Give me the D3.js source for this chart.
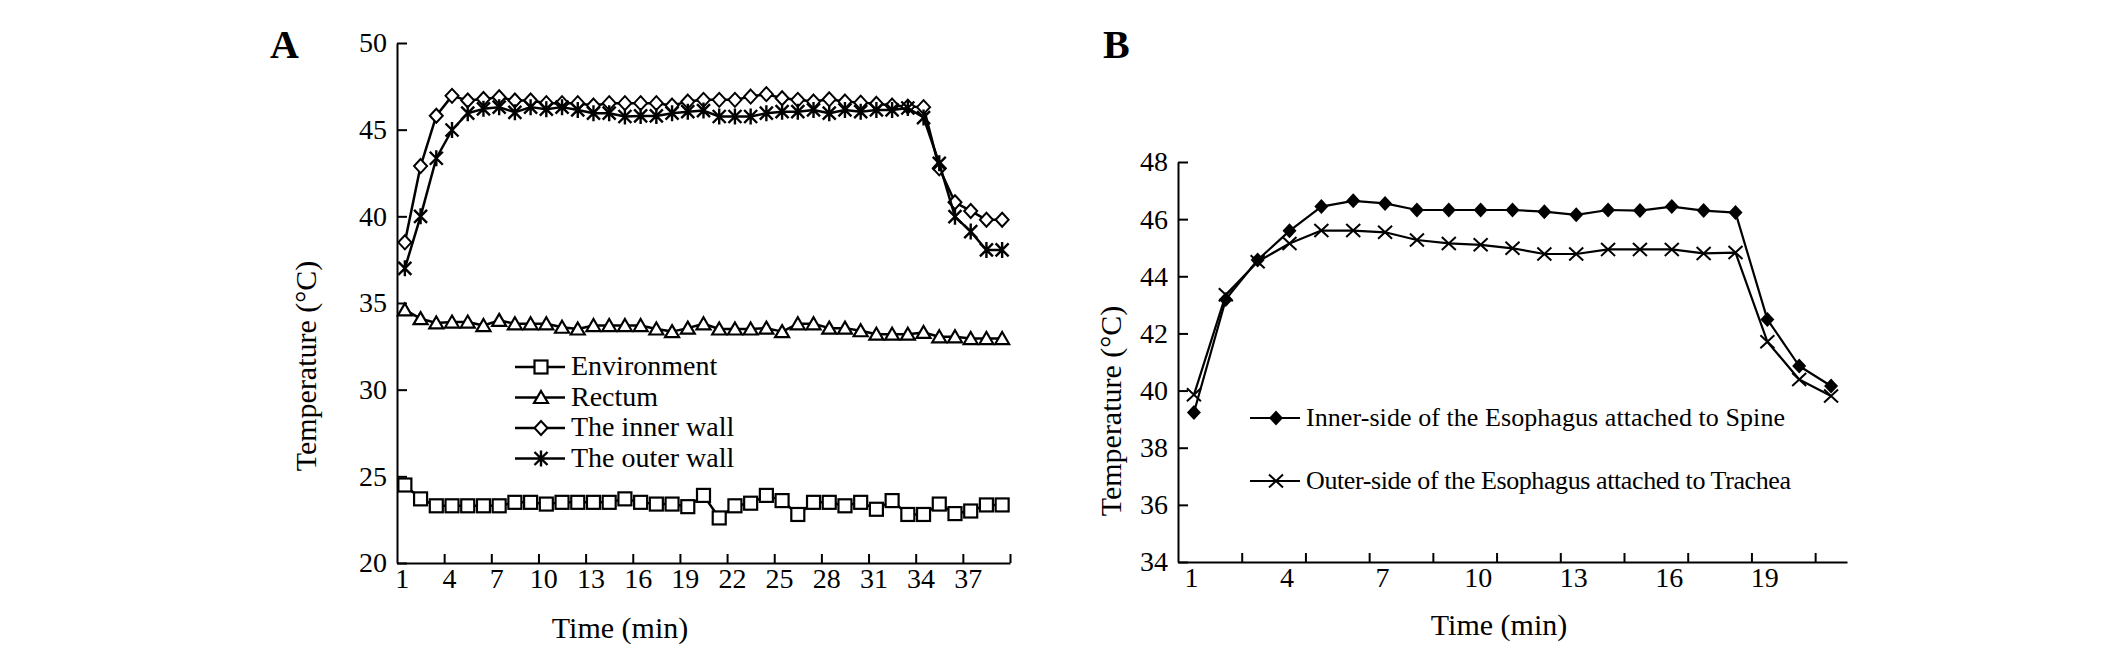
<!DOCTYPE html>
<html>
<head>
<meta charset="utf-8">
<script src="https://cdn.jsdelivr.net/npm/d3@7/dist/d3.min.js"></script>
<style>
  body { margin: 0; background: #fff; }
  text { font-family: "Liberation Serif", "Times New Roman", serif; fill: #000; }
</style>
</head>
<body>
<svg id="chart" width="2126" height="649"></svg>
<script>
// ---- panel A data (min 1..39) ----
var minutesA = [1,2,3,4,5,6,7,8,9,10,11,12,13,14,15,16,17,18,19,20,
                21,22,23,24,25,26,27,28,29,30,31,32,33,34,35,36,37,38,39];
var environment = [24.5,23.7,23.3,23.3,23.3,23.3,23.3,23.5,23.5,23.4,
                   23.5,23.5,23.5,23.5,23.7,23.5,23.4,23.4,23.25,23.9,
                   22.6,23.3,23.45,23.9,23.6,22.8,23.5,23.5,23.3,23.5,
                   23.1,23.6,22.8,22.8,23.4,22.85,23.0,23.35,23.35];
var rectum = [34.6,34.1,33.85,33.9,33.9,33.7,34.0,33.8,33.8,33.8,
              33.6,33.5,33.7,33.7,33.7,33.7,33.5,33.35,33.55,33.8,
              33.5,33.5,33.5,33.55,33.35,33.8,33.8,33.55,33.55,33.4,
              33.2,33.2,33.2,33.3,33.05,33.05,32.95,32.95,32.95];
var innerWall = [38.5,42.9,45.8,46.95,46.68,46.77,46.87,46.68,46.68,46.53,
                 46.53,46.53,46.39,46.53,46.53,46.53,46.53,46.39,46.62,46.72,
                 46.72,46.72,46.91,47.05,46.81,46.72,46.62,46.75,46.62,46.56,
                 46.49,46.39,46.33,46.3,42.77,40.81,40.31,39.8,39.8];
var outerWall = [37.0,40.0,43.35,44.98,45.95,46.2,46.3,46.0,46.3,46.18,
                 46.3,46.14,45.95,45.95,45.76,45.79,45.79,45.95,46.04,46.1,
                 45.76,45.76,45.76,45.95,46.04,46.04,46.14,45.95,46.14,46.04,
                 46.14,46.14,46.25,45.7,43.06,39.98,39.12,38.06,38.06];
var tickLabelsA = [1,4,7,10,13,16,19,22,25,28,31,34,37];
var yTicksA = [20,25,30,35,40,45,50];
var namesA = ["Environment", "Rectum", "The inner wall", "The outer wall"];

// ---- panel B data (min 1..21) ----
var minutesB = [1,2,3,4,5,6,7,8,9,10,11,12,13,14,15,16,17,18,19,20,21];
var innerSide = [39.23,43.19,44.57,45.59,46.44,46.64,46.55,46.32,46.32,46.32,
                 46.32,46.26,46.15,46.32,46.3,46.44,46.3,46.23,42.49,40.86,40.16];
var outerSide = [39.85,43.35,44.51,45.15,45.6,45.6,45.54,45.27,45.15,45.1,
                 44.98,44.78,44.78,44.94,44.94,44.94,44.8,44.83,41.71,40.39,39.81];
var tickLabelsB = [1,4,7,10,13,16,19];
var yTicksB = [34,36,38,40,42,44,46,48];
var namesB = ["Inner-side of the Esophagus attached to Spine",
              "Outer-side of the Esophagus attached to Trachea"];

var svg = d3.select("#chart");

// marker shapes
var shapes = {
  square: function (g) {
    g.append("rect").attr("x", -6.5).attr("y", -6.5).attr("width", 13).attr("height", 13)
      .attr("fill", "#fff").attr("stroke", "#000").attr("stroke-width", 2.2);
  },
  triangle: function (g) {
    g.append("path").attr("d", "M0,-6.5L7,5.5L-7,5.5Z")
      .attr("fill", "#fff").attr("stroke", "#000").attr("stroke-width", 2.2);
  },
  diamond: function (g) {
    g.append("path").attr("d", "M0,-7L6.5,0L0,7L-6.5,0Z")
      .attr("fill", "#fff").attr("stroke", "#000").attr("stroke-width", 2);
  },
  star: function (g) {
    g.append("path").attr("d", "M-6.5,-6.5L6.5,6.5M-6.5,6.5L6.5,-6.5M0,-8L0,8")
      .attr("fill", "none").attr("stroke", "#000").attr("stroke-width", 2.4);
  },
  filledDiamond: function (g) {
    g.append("path").attr("d", "M0,-7.5L7,0L0,7.5L-7,0Z").attr("fill", "#000");
  },
  cross: function (g) {
    g.append("path").attr("d", "M-7,-6.5L7,6.5M-7,6.5L7,-6.5")
      .attr("fill", "none").attr("stroke", "#000").attr("stroke-width", 2);
  }
};

function drawPanel(p) {
  var x = d3.scaleLinear().domain([0.5, p.cats.length + 0.5]).range([p.left, p.right]);
  var y = d3.scaleLinear().domain(p.yDomain).range([p.bottom, p.top]);
  var g = svg.append("g");

  // y axis, ticks pointing inward
  var ya = g.append("g").attr("transform", "translate(" + p.left + ",0)")
    .call(d3.axisLeft(y).tickValues(p.yTicks).tickSizeInner(-10).tickSizeOuter(0).tickPadding(10));
  // x axis: tick marks on category boundaries
  var boundaries = [];
  for (var b = 0.5 + p.tickEvery; b <= p.cats.length + 0.5; b += p.tickEvery) boundaries.push(b);
  var xa = g.append("g").attr("transform", "translate(0," + p.bottom + ")")
    .call(d3.axisBottom(x).tickValues(boundaries).tickSizeInner(-9).tickSizeOuter(0).tickFormat(""));
  // x labels at category centers
  var xl = g.append("g").attr("transform", "translate(-3," + p.bottom + ")")
    .call(d3.axisBottom(x).tickValues(p.tickLabels).tickSize(0).tickPadding(5));
  xl.select(".domain").remove();

  [ya, xa, xl].forEach(function (a) {
    a.selectAll("path.domain").attr("stroke", "#000").attr("stroke-width", 2);
    a.selectAll(".tick line").attr("stroke", "#000").attr("stroke-width", 2);
    a.selectAll("text").attr("font-size", 28).attr("font-family", "Liberation Serif");
  });

  // series
  var line = d3.line().x(function (d) { return x(d[0]); }).y(function (d) { return y(d[1]); });
  p.series.forEach(function (s) {
    var pts = p.cats.map(function (c, i) { return [c, s.values[i]]; });
    g.append("path").datum(pts).attr("d", line)
      .attr("fill", "none").attr("stroke", "#000").attr("stroke-width", p.lineWidth)
      .attr("stroke-linejoin", "round");
    g.selectAll(null).data(pts).enter().append("g")
      .attr("transform", function (d) { return "translate(" + x(d[0]) + "," + y(d[1]) + ")"; })
      .each(function () { shapes[s.shape](d3.select(this)); });
  });

  // legend
  p.series.forEach(function (s, i) {
    var ly = p.legend.y + i * p.legend.gap;
    var lg = g.append("g");
    lg.append("line").attr("x1", p.legend.x).attr("x2", p.legend.x + 50)
      .attr("y1", ly).attr("y2", ly).attr("stroke", "#000").attr("stroke-width", p.lineWidth);
    shapes[s.shape](lg.append("g").attr("transform", "translate(" + (p.legend.x + 26) + "," + ly + ")"));
    var t = lg.append("text").attr("x", p.legend.x + 56).attr("y", ly).attr("dy", "0.3em")
      .attr("font-size", p.legend.size).text(s.name);
    if (s.textLength) t.attr("textLength", s.textLength).attr("lengthAdjust", "spacing");
  });

  // titles
  g.append("text").attr("transform", "translate(" + p.yTitle.x + "," + p.yTitle.y + ") rotate(-90)")
    .attr("text-anchor", "middle").attr("dy", "0.35em").attr("font-size", 30)
    .text("Temperature (\u00B0C)");
  g.append("text").attr("x", p.xTitle.x).attr("y", p.xTitle.y)
    .attr("text-anchor", "middle").attr("font-size", 30).text("Time (min)");
  g.append("text").attr("x", p.label.x).attr("y", p.label.y)
    .attr("font-size", 40).attr("font-weight", "bold").text(p.label.text);
}

drawPanel({
  cats: minutesA, left: 397, right: 1010, top: 43, bottom: 563,
  yDomain: [20, 50], yTicks: yTicksA, tickLabels: tickLabelsA, tickEvery: 3,
  lineWidth: 2.5,
  series: [
    { name: namesA[0], values: environment, shape: "square" },
    { name: namesA[1], values: rectum, shape: "triangle" },
    { name: namesA[2], values: innerWall, shape: "diamond" },
    { name: namesA[3], values: outerWall, shape: "star" }
  ],
  legend: { x: 515, y: 367, gap: 30.5, size: 28 },
  yTitle: { x: 305, y: 366 }, xTitle: { x: 620, y: 638 },
  label: { x: 270, y: 58, text: "A" }
});

drawPanel({
  cats: minutesB, left: 1178, right: 1847, top: 162, bottom: 562,
  yDomain: [34, 48], yTicks: yTicksB, tickLabels: tickLabelsB, tickEvery: 2,
  lineWidth: 2.2,
  series: [
    { name: namesB[0], values: innerSide, shape: "filledDiamond", textLength: 479 },
    { name: namesB[1], values: outerSide, shape: "cross", textLength: 485 }
  ],
  legend: { x: 1250, y: 418, gap: 63, size: 26 },
  yTitle: { x: 1110, y: 411 }, xTitle: { x: 1499, y: 635 },
  label: { x: 1103, y: 58, text: "B" }
});
</script>
</body>
</html>
